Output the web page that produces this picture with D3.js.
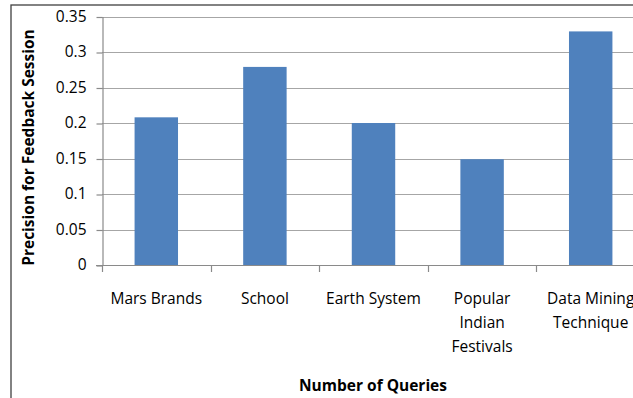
<!DOCTYPE html>
<html>
<head>
<meta charset="utf-8">
<script src="https://cdn.jsdelivr.net/npm/d3@7"></script>
<style>
  html, body { margin: 0; padding: 0; background: #fff; overflow: hidden; }
  svg { display: block; }
</style>
</head>
<body>
<svg id="chart" width="633" height="398"></svg>
<script>
// Precision per query, one bar per category
const categories = ["Mars Brands", "School", "Earth System", "Popular Indian Festivals", "Data Mining Technique"];
const labelLines = [["Mars Brands"], ["School"], ["Earth System"], ["Popular", "Indian", "Festivals"], ["Data Mining", "Technique"]];
const precision = [0.208, 0.279, 0.200, 0.149, 0.329];
const yTicks = [0, 0.05, 0.1, 0.15, 0.2, 0.25, 0.3, 0.35];
const yTickLabels = ["0", "0.05", "0.1", "0.15", "0.2", "0.25", "0.3", "0.35"];

const svg = d3.select("#chart");
const font = "'Open Sans', 'Noto Sans', sans-serif";

// chart frame (its right and bottom edges run past the view)
svg.append("rect")
  .attr("x", 11).attr("y", 5)
  .attr("width", 700).attr("height", 500)
  .attr("fill", "#fff")
  .attr("stroke", "#404040")
  .attr("stroke-width", 1.3);

const plot = { left: 102, top: 16.5, right: 645, bottom: 265 };

const x = d3.scaleBand()
  .domain(categories)
  .range([plot.left, plot.right])
  .paddingInner(0.6)
  .paddingOuter(0.3);

const y = d3.scaleLinear()
  .domain([0, 0.35])
  .range([plot.bottom, plot.top]);

// horizontal gridlines
svg.append("g")
  .selectAll("line")
  .data(yTicks.slice(1))
  .join("line")
  .attr("x1", plot.left).attr("x2", plot.right)
  .attr("y1", d => Math.round(y(d)) + 0.5)
  .attr("y2", d => Math.round(y(d)) + 0.5)
  .attr("stroke", "#a6a6a6")
  .attr("stroke-width", 1.2);

// bars
svg.append("g")
  .selectAll("rect")
  .data(categories)
  .join("rect")
  .attr("x", d => x(d))
  .attr("width", x.bandwidth())
  .attr("y", (d, i) => y(precision[i]))
  .attr("height", (d, i) => y(0) - y(precision[i]))
  .attr("fill", "#4f81bd");

// y axis
const yAxis = d3.axisLeft(y)
  .tickValues(yTicks)
  .tickFormat((d, i) => yTickLabels[i])
  .tickSize(6)
  .tickPadding(10)
  .tickSizeOuter(0);

const gy = svg.append("g")
  .attr("transform", `translate(${plot.left + 0.5},0)`)
  .call(yAxis);
gy.select(".domain").attr("stroke", "#8a8a8a").attr("stroke-width", 1.2);
gy.selectAll(".tick line").attr("stroke", "#8a8a8a").attr("stroke-width", 1.2)
  .attr("transform", "translate(0,0.5)");
gy.selectAll(".tick text")
  .attr("font-family", font)
  .attr("font-size", "15.5px")
  .attr("fill", "#000");

// x axis: baseline plus ticks on category boundaries
const step = x.step();
const gx = svg.append("g");
gx.append("line")
  .attr("x1", plot.left - 6).attr("x2", plot.right)
  .attr("y1", Math.round(y(0)) + 0.5).attr("y2", Math.round(y(0)) + 0.5)
  .attr("stroke", "#8a8a8a").attr("stroke-width", 1.2);
gx.selectAll("line.tk")
  .data(d3.range(categories.length + 1))
  .join("line")
  .attr("class", "tk")
  .attr("x1", i => Math.round(plot.left + i * step) + 0.5)
  .attr("x2", i => Math.round(plot.left + i * step) + 0.5)
  .attr("y1", Math.round(y(0)))
  .attr("y2", Math.round(y(0)) + 7)
  .attr("stroke", "#8a8a8a").attr("stroke-width", 1.2);

// category labels
const labels = gx.selectAll("text.cat")
  .data(categories)
  .join("text")
  .attr("class", "cat")
  .attr("x", d => x(d) + x.bandwidth() / 2)
  .attr("y", 303.5)
  .attr("text-anchor", "middle")
  .attr("font-family", font)
  .attr("font-size", "15.5px")
  .attr("fill", "#000");
labels.each(function(d, i) {
  const t = d3.select(this);
  labelLines[i].forEach((line, j) => {
    t.append("tspan")
      .attr("x", x(d) + x.bandwidth() / 2)
      .attr("dy", j === 0 ? 0 : 24)
      .text(line);
  });
});

// axis titles
svg.append("text")
  .attr("x", 373)
  .attr("y", 390.5)
  .attr("text-anchor", "middle")
  .attr("font-family", font)
  .attr("font-weight", "bold")
  .attr("font-size", "15.5px")
  .attr("fill", "#000")
  .text("Number of Queries");

svg.append("text")
  .attr("transform", "translate(33.5,147.5) rotate(-90)")
  .attr("text-anchor", "middle")
  .attr("font-family", font)
  .attr("font-weight", "bold")
  .attr("font-size", "15.5px")
  .attr("fill", "#000")
  .text("Precision for Feedback Session");
</script>
</body>
</html>
